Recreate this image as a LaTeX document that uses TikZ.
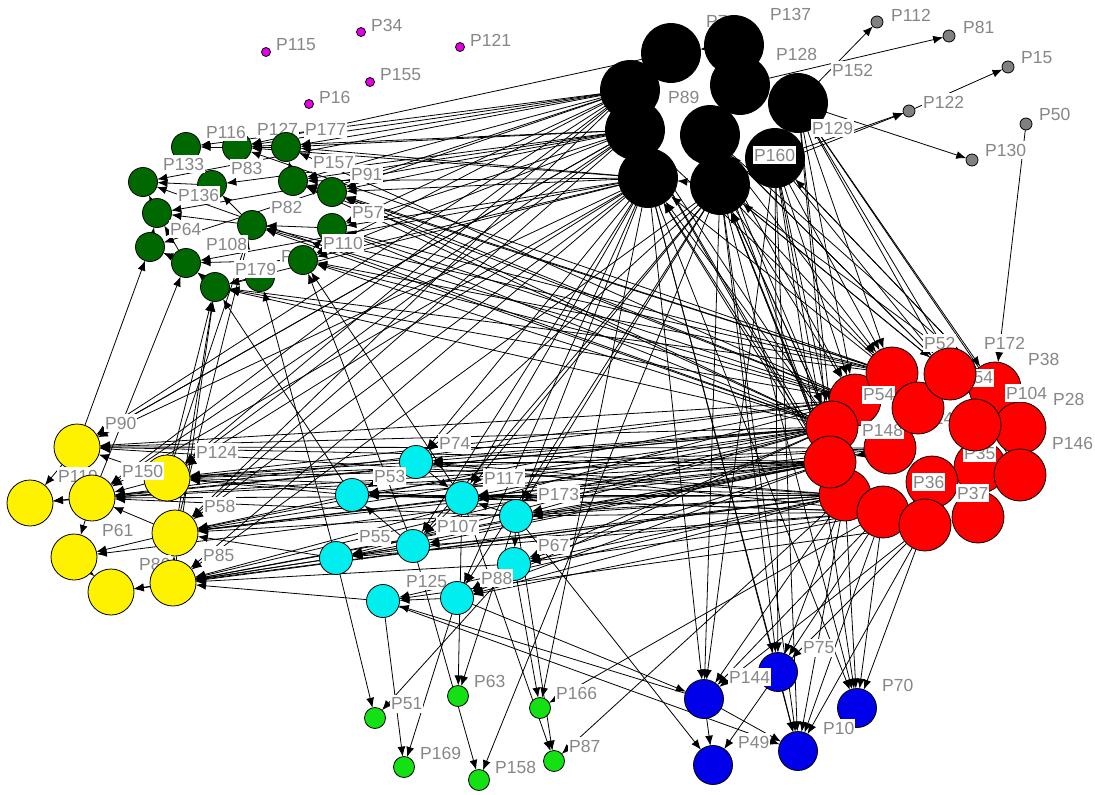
\documentclass[tikz,border=0pt]{standalone}
\usepackage{fontspec}
\setmainfont{Liberation Sans}
\usetikzlibrary{arrows.meta}
\definecolor{nodegreen}{RGB}{0,104,0}
\definecolor{nodelime}{RGB}{20,225,20}
\definecolor{nodecyan}{RGB}{0,238,238}
\definecolor{nodeblue}{RGB}{0,0,235}
\definecolor{nodegray}{RGB}{128,128,128}
\definecolor{nodemagenta}{RGB}{230,0,230}
\definecolor{labelgray}{RGB}{135,135,135}
\pgfdeclarelayer{background}
\pgfsetlayers{background,main}

\begin{document}
\begin{tikzpicture}[x=1pt, y=-1pt,
  vtx/.style={circle, draw=black, line width=0.8pt, inner sep=0pt, outer sep=0pt},
  blknode/.style={vtx, fill=black, minimum size=59pt},
  rednode/.style={vtx, fill=red, minimum size=52pt},
  yelnode/.style={vtx, fill=yellow, minimum size=46pt},
  cyannode/.style={vtx, fill=nodecyan, minimum size=33pt},
  grnnode/.style={vtx, fill=nodegreen, minimum size=29pt},
  ltgnode/.style={vtx, fill=nodelime, minimum size=21pt},
  blunode/.style={vtx, fill=nodeblue, minimum size=39pt},
  grynode/.style={vtx, fill=nodegray, minimum size=12pt},
  magnode/.style={vtx, fill=nodemagenta, minimum size=9pt},
  lbl/.style={anchor=west, fill=white, text=labelgray, inner xsep=1pt, inner ysep=3pt,
    font=\fontsize{17.5}{20}\selectfont},
  edge/.style={-{Latex[length=10pt,width=8pt]}, line width=0.8pt}]
\useasboundingbox (0,0) rectangle (1095,795);

% isolated and small nodes
\node[magnode] (m1) at (266,52) {};
\node[lbl] (t115) at (275,45) {P115};
\node[magnode] (m2) at (361,32) {};
\node[lbl] (t34) at (370,25) {P34};
\node[magnode] (m3) at (460,47) {};
\node[lbl] (t121) at (469,40) {P121};
\node[magnode] (m4) at (370,82) {};
\node[lbl] (t155) at (379,75) {P155};
\node[magnode] (m5) at (309,104) {};
\node[lbl] (t16) at (318,97) {P16};
\node[grynode] (s1) at (877,22) {};
\node[lbl] (t112) at (890,15) {P112};
\node[grynode] (s2) at (949,36) {};
\node[lbl] (t81) at (962,27) {P81};
\node[grynode] (s3) at (1008,67) {};
\node[lbl] (t15) at (1020,58) {P15};
\node[grynode] (s4) at (909,111) {};
\node[lbl] (t122) at (922,102) {P122};
\node[grynode] (s5) at (1026,124) {};
\node[lbl] (t50) at (1038,114) {P50};
\node[grynode] (s6) at (972,160) {};
\node[lbl] (t130) at (984,150) {P130};

% black cluster
\node[blknode] (k3) at (630,90) {};
\node[blknode] (k9) at (648,178) {};
\node[blknode] (k7) at (710,135) {};
\node[blknode] (k1) at (671,53) {};
\node[lbl] (t7) at (705,21) {P7};
\node[blknode] (k2) at (734,45) {};
\node[lbl] (t137) at (769,14) {P137};
\node[blknode] (k4) at (740,85) {};
\node[lbl] (t128) at (775,54) {P128};
\node[blknode] (k6) at (635,130) {};
\node[lbl] (t89) at (667,97) {P89};
\node[blknode] (k8) at (775,158) {};
\node[blknode] (k10) at (720,185) {};
\node[blknode] (k5) at (798,103) {};
\node[lbl] (t160) at (753,155) {P160};
\node[lbl] (t129) at (811,128) {P129};
\node[lbl] (t152) at (831,70) {P152};

% dark green cluster
\node[grnnode] (g2) at (237,147) {};
\node[grnnode] (g1) at (186,147) {};
\node[lbl] (t116) at (205,132) {P116};
\node[lbl] (t127) at (256,129) {P127};
\node[grnnode] (g3) at (286,147) {};
\node[lbl] (t177) at (304,129) {P177};
\node[grnnode] (g5) at (212,185) {};
\node[grnnode] (g4) at (143,182) {};
\node[lbl] (t133) at (162,164) {P133};
\node[lbl] (t83) at (230,168) {P83};
\node[grnnode] (g6) at (293,181) {};
\node[lbl] (t157) at (312,163) {P157};
\node[grnnode] (g7) at (332,192) {};
\node[lbl] (t91) at (350,174) {P91};
\node[grnnode] (g8) at (157,213) {};
\node[lbl] (t136) at (177,195) {P136};
\node[grnnode] (g9) at (252,225) {};
\node[lbl] (t82) at (270,207) {P82};
\node[grnnode] (g10) at (332,228) {};
\node[lbl] (t57) at (351,213) {P57};
\node[grnnode] (g11) at (150,247) {};
\node[lbl] (t64) at (169,229) {P64};
\node[grnnode] (g12) at (186,263) {};
\node[lbl] (t108) at (205,244) {P108};
\node[grnnode] (g15) at (260,277) {};
\node[lbl] (t93) at (280,256) {P93};
\node[grnnode] (g13) at (303,260) {};
\node[lbl] (t110) at (322,243) {P110};
\node[grnnode] (g14) at (215,287) {};
\node[lbl] (t179) at (234,269) {P179};

% yellow cluster
\node[yelnode] (y1) at (77,447) {};
\node[lbl] (t90) at (104,423) {P90};
\node[yelnode] (y2) at (30,503) {};
\node[lbl] (t119) at (57,476) {P119};
\node[yelnode] (y4) at (167,478) {};
\node[lbl] (t124) at (195,452) {P124};
\node[yelnode] (y3) at (92,498) {};
\node[lbl] (t150) at (121,471) {P150};
\node[yelnode] (y5) at (175,533) {};
\node[lbl] (t58) at (203,506) {P58};
\node[yelnode] (y6) at (74,557) {};
\node[lbl] (t61) at (101,530) {P61};
\node[yelnode] (y7) at (111,592) {};
\node[lbl] (t86) at (138,564) {P86};
\node[yelnode] (y8) at (173,583) {};
\node[lbl] (t85) at (202,555) {P85};

% cyan cluster
\node[cyannode] (c1) at (416,462) {};
\node[lbl] (t74) at (438,443) {P74};
\node[cyannode] (c2) at (352,495) {};
\node[lbl] (t53) at (373,476) {P53};
\node[cyannode] (c3) at (462,498) {};
\node[lbl] (t117) at (483,478) {P117};
\node[cyannode] (c4) at (516,516) {};
\node[lbl] (t173) at (537,494) {P173};
\node[cyannode] (c5) at (413,546) {};
\node[lbl] (t107) at (436,526) {P107};
\node[cyannode] (c6) at (336,558) {};
\node[lbl] (t55) at (358,537) {P55};
\node[cyannode] (c7) at (514,564) {};
\node[lbl] (t67) at (537,545) {P67};
\node[cyannode] (c8) at (383,601) {};
\node[lbl] (t125) at (405,581) {P125};
\node[cyannode] (c9) at (457,598) {};
\node[lbl] (t88) at (480,578) {P88};

% light green
\node[ltgnode] (e1) at (375,718) {};
\node[lbl] (t51) at (390,704) {P51};
\node[ltgnode] (e2) at (458,696) {};
\node[lbl] (t63) at (473,681) {P63};
\node[ltgnode] (e3) at (540,708) {};
\node[lbl] (t166) at (555,693) {P166};
\node[ltgnode] (e4) at (404,767) {};
\node[lbl] (t169) at (419,753) {P169};
\node[ltgnode] (e5) at (479,780) {};
\node[lbl] (t158) at (494,767) {P158};
\node[ltgnode] (e6) at (554,761) {};
\node[lbl] (t87) at (568,746) {P87};

% blue
\node[blunode] (u1) at (778,672) {};
\node[lbl] (t75) at (802,648) {P75};
\node[blunode] (u2) at (704,699) {};
\node[lbl] (t144) at (728,677) {P144};
\node[blunode] (u3) at (857,708) {};
\node[lbl] (t70) at (881,685) {P70};
\node[blunode] (u4) at (713,765) {};
\node[lbl] (t49) at (737,742) {P49};
\node[blunode] (u5) at (798,751) {};
\node[lbl] (t10) at (822,728) {P10};

% red cluster
\node[rednode] (r4) at (855,400) {};
\node[rednode] (r1) at (892,373) {};
\node[lbl] (t52) at (923,343) {P52};
\node[rednode] (r6) at (832,427) {};
\node[lbl] (t54) at (862,395) {P54};
\node[rednode] (r9) at (890,448) {};
\node[lbl] (t147) at (921,418) {P147};
\node[rednode] (r13) at (845,495) {};
\node[rednode] (r10) at (830,462) {};
\node[lbl] (t148) at (861,430) {P148};
\node[rednode] (r3) at (995,388) {};
\node[lbl] (t38) at (1027,359) {P38};
\node[rednode] (r5) at (918,408) {};
\node[lbl] (t154) at (951,378) {P154};
\node[rednode] (r2) at (950,374) {};
\node[lbl] (t172) at (983,343) {P172};
\node[rednode] (r8) at (1020,428) {};
\node[lbl] (t28) at (1052,399) {P28};
\node[rednode] (r11) at (980,467) {};
\node[rednode] (r14) at (932,482) {};
\node[lbl] (t35) at (963,453) {P35};
\node[rednode] (r7) at (975,425) {};
\node[lbl] (t104) at (1005,393) {P104};
\node[rednode] (r12) at (1020,475) {};
\node[lbl] (t146) at (1051,443) {P146};
\node[rednode] (r17) at (978,517) {};
\node[rednode] (r15) at (883,512) {};
\node[lbl] (t36) at (912,482) {P36};
\node[rednode] (r16) at (925,525) {};
\node[lbl] (t37) at (956,493) {P37};

\begin{pgfonlayer}{background}
\fill[white] (0,0) rectangle (1095,795);
% bundles between clusters
\foreach \src in {r4,r6,r10,r13,r9}
  \foreach \dst in {y1,y3,y4,y5,y8}
    \draw[edge] (\src) -- (\dst);
\foreach \src in {r6,r10,r13,r15}
  \foreach \dst in {c1,c2,c3,c4,c6,c7,c9}
    \draw[edge] (\src) -- (\dst);
\foreach \src in {r1,r4,r6}
  \foreach \dst in {g6,g7,g9,g10,g13,g14}
    \draw[edge] (\src) -- (\dst);
\foreach \src in {k3,k6,k9}
  \foreach \dst in {g2,g3,g6,g7,g10,g13}
    \draw[edge] (\src) -- (\dst);
\foreach \src in {k5,k7,k8,k10}
  \foreach \dst in {r1,r2,r3,r4,r6,r10}
    \draw[edge] (\src) -- (\dst);
\foreach \src in {r6,r10,r13}
  \foreach \dst in {k6,k9,k10}
    \draw[edge] (\src) -- (\dst);
\foreach \src in {k8,k9,k10}
  \foreach \dst in {u1,u2,u3,u5}
    \draw[edge] (\src) -- (\dst);
\foreach \src in {r13,r15,r16}
  \foreach \dst in {u1,u2,u3,u5}
    \draw[edge] (\src) -- (\dst);
\foreach \src in {k3,k6,k9}
  \foreach \dst in {y1,y3,y4,y5}
    \draw[edge] (\src) -- (\dst);
\foreach \src in {k9,k10}
  \foreach \dst in {c1,c3,c4,c5,c9}
    \draw[edge] (\src) -- (\dst);
% single ties
\foreach \src/\dst in {g2/g1, g3/g2, g5/g4, g9/g5, g9/g8, g12/g11, g13/g12, g15/g14,
    g7/g6, g10/g9, g14/g12, g8/g4, g6/g3, g13/g10, g12/g8, g11/g8,
    k1/g2, k3/g1, k6/g5, k3/g4, k6/g8, k9/g12, k9/g14, k3/g11,
    y3/y2, y4/y3, y3/y6, y6/y7, y8/y7, y5/y6, y4/y1, y5/y3, y8/y5, y1/y2,
    c3/c2, c1/c2, c5/c6, c9/c8, c4/c3, c7/c9, c4/c7, c5/c2, c1/c3, c3/c5,
    c2/y4, c6/y8, c8/y8, c2/y5, c6/y5, c3/y5, c1/y4, c3/y4, c4/y3, c5/y8, c7/y8,
    y4/g14, y5/g14, y5/g9, y3/g12, y8/g14, y1/g11, y4/g9,
    c9/e4, c5/e5, c3/e6, c7/e3, c4/e6, r13/e6, r15/e3, k9/e3, c6/e1, c3/e2,
    c4/e2, c7/e1, k10/e5, c8/e4,
    u2/u4, u1/u4, u1/u5, u2/c8, c8/u5, u2/u5, c9/u2, c4/u4,
    k5/s1, k4/s2, s4/s3, k8/s4, k10/s4, k5/s6, s5/r3,
    c5/g13, c3/g13, c2/g14, c6/g15,
    k1/k3, k2/k4, k4/k7, k6/k9, k7/k10, k5/k8, k3/k6, k10/k9, k2/k1, k8/k10,
    r1/r4, r2/r5, r5/r9, r9/r10, r14/r11, r15/r13, r3/r7, r8/r12, r16/r15,
    r17/r16, r7/r11, r4/r6,
    r1/k6, r2/k10, r3/k8, r12/k5, r8/k5, r2/k7, r1/k9,
    r6/y2, r10/y6, r13/y7, r6/g4, r4/g3, r1/g2,
    r10/c5, r13/c8, r15/c5, r16/c8, k9/y8, k10/y8, k6/y1}
  \draw[edge] (\src) -- (\dst);
\end{pgfonlayer}
\end{tikzpicture}
\end{document}
